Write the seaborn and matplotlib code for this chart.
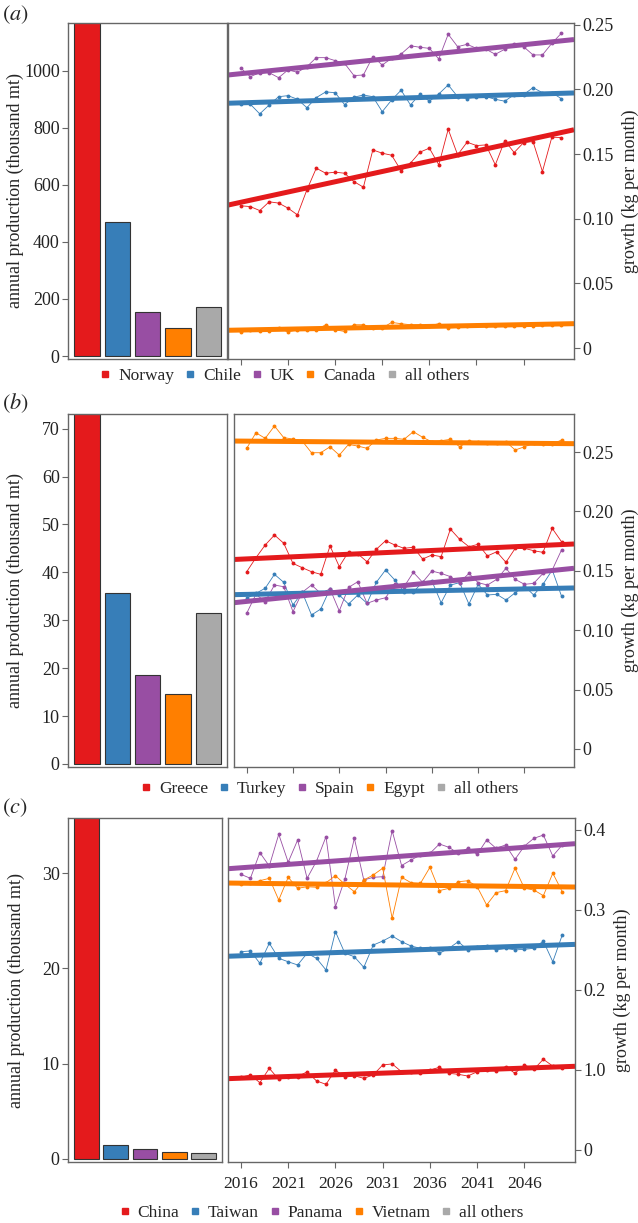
import numpy as np
import matplotlib
matplotlib.use("Agg")
import matplotlib.pyplot as plt
from matplotlib.lines import Line2D
import seaborn as sns

# -------------------------------------
# DATA
# -------------------------------------
years = np.arange(2016, 2051)
bar_colors = ["#E41A1C", "#377EB8", "#984EA3", "#FF7F00", "#A9A9A9"]

# panel (a)
a_countries = ["Norway", "Chile", "UK", "Canada", "all others"]
a_production = [1180, 470, 154, 98, 172]
a_norway = [0.1100, 0.1094, 0.1063, 0.1131, 0.1121, 0.1082, 0.1030, 0.1223, 0.1391, 0.1352,
            0.1360, 0.1352, 0.1287, 0.1244, 0.1532, 0.1507, 0.1491, 0.1372, 0.1430, 0.1515,
            0.1546, 0.1417, 0.1692, 0.1494, 0.1592, 0.1566, 0.1571, 0.1417, 0.1604, 0.1512,
            0.1589, 0.1597, 0.1365, 0.1631, 0.1628]
a_chile = [0.1886, 0.1886, 0.1811, 0.1880, 0.1944, 0.1952, 0.1924, 0.1859, 0.1937, 0.1981,
           0.1975, 0.1883, 0.1940, 0.1957, 0.1944, 0.1828, 0.1919, 0.1994, 0.1880, 0.1965,
           0.1909, 0.1965, 0.2035, 0.1944, 0.1929, 0.1944, 0.1944, 0.1924, 0.1909, 0.1960,
           0.1960, 0.2014, 0.1975, 0.1975, 0.1929]
a_uk = [0.2164, 0.2099, 0.2130, 0.2130, 0.2091, 0.2151, 0.2133, 0.2176, 0.2246, 0.2246,
        0.2223, 0.2202, 0.2107, 0.2112, 0.2254, 0.2189, 0.2241, 0.2274, 0.2338, 0.2326,
        0.2318, 0.2236, 0.2427, 0.2331, 0.2349, 0.2318, 0.2311, 0.2272, 0.2311, 0.2354,
        0.2331, 0.2267, 0.2267, 0.2357, 0.2434]
a_canada = [0.0121, 0.0141, 0.0134, 0.0134, 0.0155, 0.0124, 0.0141, 0.0141, 0.0141, 0.0180,
            0.0141, 0.0128, 0.0180, 0.0180, 0.0155, 0.0155, 0.0198, 0.0188, 0.0180, 0.0180,
            0.0172, 0.0188, 0.0155, 0.0159, 0.0172, 0.0180, 0.0172, 0.0172, 0.0172, 0.0172,
            0.0172, 0.0172, 0.0180, 0.0180, 0.0180]

# panel (b)
b_countries = ["Greece", "Turkey", "Spain", "Egypt", "all others"]
b_production = [75, 35.8, 18.6, 14.7, 31.5]
b_greece = [0.1492, 0.1610, 0.1717, 0.1801, 0.1732, 0.1562, 0.1526, 0.1492, 0.1470, 0.1709,
            0.1535, 0.1660, 0.1642, 0.1576, 0.1681, 0.1753, 0.1717, 0.1689, 0.1698, 0.1599,
            0.1633, 0.1619, 0.1851, 0.1765, 0.1703, 0.1723, 0.1625, 0.1660, 0.1571, 0.1689,
            0.1689, 0.1669, 0.1655, 0.1857, 0.1745]
b_turkey = [0.1268, 0.1310, 0.1353, 0.1470, 0.1403, 0.1212, 0.1319, 0.1128, 0.1178, 0.1347,
            0.1296, 0.1220, 0.1296, 0.1226, 0.1403, 0.1507, 0.1422, 0.1324, 0.1319, 0.1408,
            0.1414, 0.1231, 0.1380, 0.1400, 0.1220, 0.1386, 0.1296, 0.1302, 0.1254, 0.1315,
            0.1371, 0.1296, 0.1386, 0.1507, 0.1287]
b_spain = [0.1142, 0.1302, 0.1240, 0.1380, 0.1366, 0.1156, 0.1319, 0.1380, 0.1310, 0.1347,
           0.1162, 0.1360, 0.1408, 0.1226, 0.1254, 0.1273, 0.1386, 0.1366, 0.1487, 0.1403,
           0.1498, 0.1478, 0.1451, 0.1400, 0.1478, 0.1400, 0.1380, 0.1428, 0.1521, 0.1428,
           0.1386, 0.1394, 0.1478, 0.1507, 0.1675]
b_egypt = [0.2531, 0.2662, 0.2615, 0.2719, 0.2621, 0.2609, 0.2592, 0.2494, 0.2494, 0.2544,
           0.2474, 0.2564, 0.2550, 0.2531, 0.2601, 0.2615, 0.2615, 0.2607, 0.2671, 0.2624,
           0.2586, 0.2595, 0.2607, 0.2544, 0.2592, 0.2586, 0.2573, 0.2573, 0.2586, 0.2517,
           0.2544, 0.2573, 0.2567, 0.2567, 0.2601]

# panel (c)  (China is shown at one tenth of its growth, hence the "1.0" tick)
c_countries = ["China", "Taiwan", "Panama", "Vietnam", "all others"]
c_production = [37, 1.4, 1.0, 0.7, 0.6]
c_china = [0.0909, 0.0938, 0.0842, 0.1021, 0.0883, 0.0916, 0.0916, 0.0978, 0.0863, 0.0821,
           0.1000, 0.0909, 0.0928, 0.0896, 0.0938, 0.1063, 0.1076, 0.0978, 0.0978, 0.0959,
           0.1000, 0.1034, 0.0959, 0.0946, 0.0925, 0.0978, 0.1000, 0.0988, 0.1041, 0.0959,
           0.1063, 0.1009, 0.1134, 0.1049, 0.1021]
c_taiwan = [0.2479, 0.2488, 0.2334, 0.2584, 0.2396, 0.2353, 0.2313, 0.2459, 0.2396, 0.2250,
            0.2729, 0.2459, 0.2416, 0.2283, 0.2562, 0.2612, 0.2675, 0.2604, 0.2550, 0.2521,
            0.2521, 0.2459, 0.2521, 0.2604, 0.2501, 0.2541, 0.2550, 0.2501, 0.2521, 0.2501,
            0.2509, 0.2521, 0.2612, 0.2353, 0.2687]
c_panama = [0.3446, 0.3396, 0.3717, 0.3550, 0.3946, 0.3597, 0.3875, 0.3396, 0.3612, 0.3916,
            0.3041, 0.3388, 0.3896, 0.3375, 0.3409, 0.3416, 0.3991, 0.3556, 0.3625, 0.3688,
            0.3708, 0.3825, 0.3784, 0.3708, 0.3771, 0.3696, 0.3875, 0.3771, 0.3813, 0.3633,
            0.3800, 0.3896, 0.3937, 0.3675, 0.3813]
c_vietnam = [0.3321, 0.3334, 0.3366, 0.3396, 0.3125, 0.3409, 0.3271, 0.3291, 0.3284, 0.3341,
             0.3429, 0.3321, 0.3229, 0.3375, 0.3438, 0.3522, 0.2896, 0.3409, 0.3341, 0.3334,
             0.3534, 0.3242, 0.3271, 0.3353, 0.3366, 0.3291, 0.3062, 0.3217, 0.3242, 0.3522,
             0.3271, 0.3250, 0.3179, 0.3459, 0.3229]

a_ticks = [0, 0.05, 0.10, 0.15, 0.20, 0.25]
a_ticklabels = ["0", "0.05", "0.10", "0.15", "0.20", "0.25"]
c_ticks = [0, 0.1, 0.2, 0.3, 0.4]
c_ticklabels = ["0", "1.0", "0.2", "0.3", "0.4"]
year_ticks = [2016, 2021, 2026, 2031, 2036, 2041, 2046]

# -------------------------------------
# STYLE
# -------------------------------------
sns.set_theme(style="white")
plt.rcParams["font.family"] = ["Liberation Serif", "DejaVu Serif"]
plt.rcParams["mathtext.fontset"] = "stix"

W, H = 638, 1223
fig = plt.figure(figsize=(W / 100, H / 100), dpi=100)


def box(x0, y0, x1, y1):
    return fig.add_axes([x0 / W, 1 - y1 / H, (x1 - x0) / W, (y1 - y0) / H])


def frame(ax):
    for s in ax.spines.values():
        s.set_color("#666666")
        s.set_linewidth(1.0)
    ax.tick_params(direction="out", length=4, width=0.8, color="#666666",
                   labelsize=13, pad=2, labelcolor="#222222")


def bar_panel(ax, names, values, ylim, yticks):
    sns.barplot(x=names, y=values, hue=names, palette=bar_colors, legend=False,
                width=0.84, edgecolor="#333333", linewidth=0.8, saturation=1, ax=ax)
    ax.set_xlim(-0.63, 4.62)
    ax.set_ylim(*ylim)
    ax.set_yticks(yticks)
    ax.set_xticks([])
    ax.set_xlabel("")
    ax.set_ylabel("annual production (thousand mt)", fontsize=13, va="center")
    ax.yaxis.set_label_coords(-53 / 159, 0.5)
    frame(ax)
    ax.tick_params(axis="y", left=True)


def growth_panel(ax, series, ylim, yticks, yticklabels, xlabels):
    ax.set_xlim(2014.63, 2051.35)
    for vals, col in zip(series, bar_colors):
        sns.lineplot(x=years, y=vals, color=col, lw=0.6, marker="o", markersize=2.8,
                     markeredgewidth=0, ax=ax)
    for vals, col in zip(series, bar_colors):
        sns.regplot(x=years, y=vals, scatter=False, ci=None, truncate=False, color=col,
                    line_kws=dict(lw=3.6, solid_capstyle="butt"), ax=ax)
    ax.set_xlim(2014.63, 2051.35)
    ax.set_ylim(*ylim)
    ax.set_yticks(yticks)
    ax.set_yticklabels(yticklabels)
    ax.set_xticks(year_ticks)
    ax.yaxis.tick_right()
    ax.yaxis.set_label_position("right")
    ax.set_ylabel("growth (kg per month)", fontsize=13, labelpad=6)
    ax.set_xlabel("")
    frame(ax)
    ax.tick_params(axis="both", bottom=True, right=True, left=False)
    ax.tick_params(axis="x", labelsize=12.5, labelbottom=xlabels, pad=6)


def legend(names, cx, cy):
    handles = [Line2D([], [], marker="s", ls="", color=c, markersize=4.5) for c in bar_colors]
    fig.legend(handles, names, loc="center", bbox_to_anchor=(cx / W, 1 - cy / H), ncol=5,
               frameon=False, handlelength=0.5, handletextpad=0.5, columnspacing=0.65,
               fontsize=12.5, borderaxespad=0)


# -------------------------------------
# PANEL (a)
# -------------------------------------
ax = box(68, 23, 227, 359)
bar_panel(ax, a_countries, a_production, (-10.5, 1168), [0, 200, 400, 600, 800, 1000])
ax = box(228, 23, 574, 359)
growth_panel(ax, [a_norway, a_chile, a_uk, a_canada], (-0.0085, 0.2514),
             a_ticks, a_ticklabels, False)
legend(a_countries, 285, 376)
fig.text(2 / W, 1 - 15 / H, r"$(a)$", fontsize=16, va="center")

# -------------------------------------
# PANEL (b)
# -------------------------------------
ax = box(68, 414, 227, 767)
bar_panel(ax, b_countries, b_production, (-0.63, 73.07), [0, 10, 20, 30, 40, 50, 60, 70])
ax = box(234, 414, 574, 767)
growth_panel(ax, [b_greece, b_turkey, b_spain, b_egypt], (-0.0152, 0.282),
             a_ticks, a_ticklabels, False)
legend(b_countries, 330, 789)
fig.text(2 / W, 1 - 403 / H, r"$(b)$", fontsize=16, va="center")

# -------------------------------------
# PANEL (c)
# -------------------------------------
ax = box(68, 818, 222, 1162)
bar_panel(ax, c_countries, c_production, (-0.35, 35.8), [0, 10, 20, 30])
ax = box(228, 818, 575, 1162)
growth_panel(ax, [c_china, c_taiwan, c_panama, c_vietnam], (-0.015, 0.415),
             c_ticks, c_ticklabels, True)
legend(c_countries, 322, 1213)
fig.text(2 / W, 1 - 808 / H, r"$(c)$", fontsize=16, va="center")

fig.savefig("out.png", dpi=100)
